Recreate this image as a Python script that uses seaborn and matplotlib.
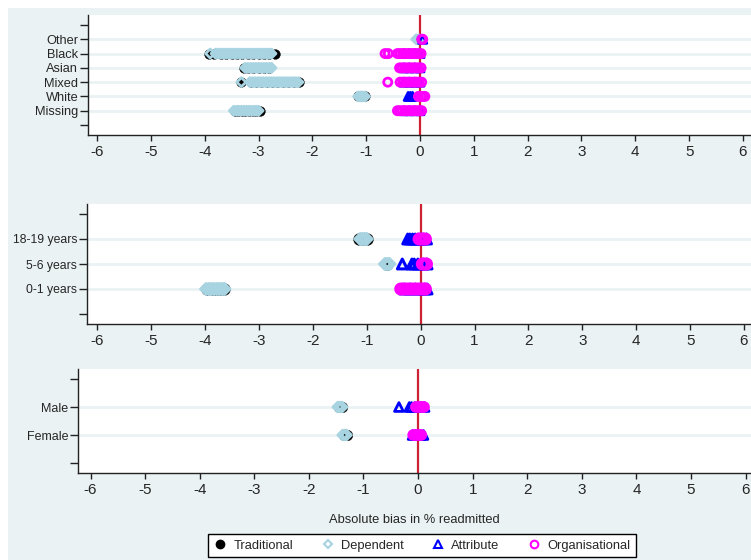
import pandas as pd
import matplotlib.pyplot as plt
import seaborn as sns

# ---- data (absolute bias in % readmitted) ----
methods = ["Traditional", "Dependent", "Attribute", "Organisational"]

# panel 1: ethnicity (bottom to top)
eth_cats = ["Missing", "White", "Mixed", "Asian", "Black", "Other"]
eth_trad = [
    [-3.44, -3.38, -3.31, -3.25, -3.18, -3.11, -3.04, -2.97],
    [-1.16, -1.10, -1.03],
    [-3.33, -3.15, -3.05, -2.95, -2.85, -2.75, -2.65, -2.55, -2.45, -2.35, -2.25],
    [-3.28, -3.19, -3.10, -3.00, -2.90, -2.80],
    [-3.92, -3.82, -3.70, -3.60, -3.50, -3.40, -3.30, -3.20, -3.10, -3.00, -2.90, -2.80, -2.70],
    [-0.04],
]
eth_dep = [
    [-3.46, -3.41, -3.37, -3.32, -3.27, -3.22, -3.18, -3.13, -3.08, -3.04, -3.00],
    [-1.15, -1.11, -1.07, -1.02],
    [-3.32, -3.16, -3.11, -3.06, -3.01, -2.96, -2.91, -2.86, -2.81, -2.76, -2.71,
     -2.66, -2.61, -2.56, -2.51, -2.46, -2.41, -2.36, -2.31, -2.26],
    [-3.25, -3.20, -3.15, -3.10, -3.05, -3.00, -2.95, -2.90, -2.85, -2.80, -2.76],
    [-3.90, -3.80, -3.75, -3.70, -3.65, -3.60, -3.55, -3.50, -3.45, -3.40, -3.35, -3.30,
     -3.25, -3.20, -3.15, -3.10, -3.05, -3.00, -2.95, -2.90, -2.85, -2.80, -2.76],
    [-0.07, -0.02],
]
eth_attr = [
    [-0.30, -0.20, -0.10, 0.00],
    [-0.22, -0.18, -0.14],
    [-0.30, -0.20, -0.10, 0.00],
    [-0.30, -0.20, -0.10, 0.00],
    [-0.30, -0.20, -0.10, 0.00],
    [0.05],
]
eth_org = [
    [-0.42, -0.38, -0.33, -0.28, -0.24, -0.19, -0.14, -0.10, -0.05, 0.00, 0.03],
    [-0.03, 0.02, 0.06, 0.09],
    [-0.60, -0.37, -0.32, -0.27, -0.22, -0.17, -0.12, -0.07, -0.02, 0.03],
    [-0.38, -0.33, -0.28, -0.23, -0.18, -0.13, -0.08, -0.03, 0.02],
    [-0.65, -0.59, -0.42, -0.37, -0.32, -0.27, -0.22, -0.17, -0.12, -0.07, -0.02, 0.02],
    [0.03, 0.05],
]

# panel 2: age (bottom to top)
age_cats = ["0-1 years", "5-6 years", "18-19 years"]
age_trad = [[-3.96, -3.88, -3.80, -3.72, -3.65], [-0.63], [-1.14, -1.07, -1.00]]
age_dep = [[-3.98, -3.93, -3.88, -3.83, -3.78, -3.73, -3.68, -3.64],
           [-0.66, -0.62, -0.58],
           [-1.12, -1.08, -1.04, -1.00]]
age_attr = [[-0.30, -0.20, -0.10, 0.00, 0.08, 0.12],
            [-0.34, -0.16, -0.12, -0.05, 0.05, 0.12],
            [-0.24, -0.20, -0.15, -0.10, -0.05, 0.00, 0.05, 0.11]]
age_org = [[-0.37, -0.33, -0.28, -0.23, -0.18, -0.13, -0.08, -0.03, 0.02, 0.06, 0.09],
           [0.03, 0.07, 0.11],
           [-0.03, 0.01, 0.05, 0.09]]

# panel 3: sex (bottom to top)
sex_cats = ["Female", "Male"]
sex_trad = [[-1.36, -1.30], [-1.45, -1.39]]
sex_dep = [[-1.38, -1.34, -1.31], [-1.47, -1.43, -1.39]]
sex_attr = [[-0.10, -0.05, 0.00, 0.05, 0.10],
            [-0.35, -0.16, -0.12, -0.06, 0.00, 0.06, 0.12]]
sex_org = [[-0.09, -0.05, -0.01, 0.03, 0.06], [-0.04, 0.00, 0.04, 0.08, 0.11]]

xticks = list(range(-6, 7))
xlabel = "Absolute bias in % readmitted"

# ---- style ----
styles = {
    "Traditional": dict(marker="o", color="black", facecolor="black", scale=1.45, lw=0.3),
    "Dependent": dict(marker="D", color="#a8d3e0", facecolor="none", scale=0.62, lw=None),
    "Attribute": dict(marker="^", color="#0000ff", facecolor="none", scale=1.0, lw=None),
    "Organisational": dict(marker="o", color="#ff00ff", facecolor="none", scale=1.0, lw=None),
}
bg = "#eaf2f3"

sns.set_theme(style="ticks")
plt.rcParams["font.family"] = ["Liberation Sans", "DejaVu Sans"]
plt.rcParams["axes.unicode_minus"] = False


def make_frame(cats, trad, dep, attr, org):
    rows = []
    for method, groups in zip(methods, [trad, dep, attr, org]):
        for pos, (cat, vals) in enumerate(zip(cats, groups), start=1):
            for v in vals:
                rows.append({"method": method, "category": cat, "pos": pos, "bias": v})
    return pd.DataFrame(rows)


fig = plt.figure(figsize=(7.51, 5.6), dpi=100)
fig.patches.append(plt.Rectangle((8 / 751, 0), 1, 1 - 8 / 560, transform=fig.transFigure,
                                 facecolor=bg, edgecolor="none", zorder=-10))

# cats, data..., [left px, top px, bottom px], xlim, marker size, line width, label size
panels = [
    (eth_cats, eth_trad, eth_dep, eth_attr, eth_org, [88, 15, 135], (-6.17, 6.15), 34, 2.0, 9.2),
    (age_cats, age_trad, age_dep, age_attr, age_org, [87, 204, 324], (-6.19, 6.13), 50, 2.2, 8.8),
    (sex_cats, sex_trad, sex_dep, sex_attr, sex_org, [78, 369, 473], (-6.23, 6.10), 40, 2.0, 9.0),
]

for i, (cats, trad, dep, attr, org, box, xlim, size, lw, fs) in enumerate(panels):
    left, top, bottom = box
    ax = fig.add_axes([left / 751, 1 - bottom / 560, 1 - left / 751, (bottom - top) / 560])
    ax.set_facecolor("white")
    df = make_frame(cats, trad, dep, attr, org)
    n = len(cats)

    for pos in range(1, n + 1):
        ax.axhline(pos, color=bg, lw=2, zorder=0)
    ax.axvline(0, color="#cc2233", lw=1.6, zorder=1)

    for z, m in enumerate(methods):
        st = styles[m]
        sns.scatterplot(data=df[df["method"] == m], x="bias", y="pos", ax=ax,
                        marker=st["marker"], color=st["color"], facecolor=st["facecolor"],
                        edgecolor=st["color"], linewidth=st["lw"] or lw,
                        s=size * st["scale"], legend=False, zorder=2 + z)

    unit = (bottom - top - 20) / (n + 1)
    ax.set_ylim(-10 / unit, n + 1 + 10 / unit)
    ax.set_yticks(range(0, n + 2))
    ax.set_yticklabels([""] + cats + [""], fontsize=fs)
    ax.set_xlim(*xlim)
    ax.set_xticks(xticks)
    ax.set_xticklabels([str(t) for t in xticks], fontsize=11)
    ax.set_xlabel("")
    ax.set_ylabel("")
    ax.tick_params(axis="y", length=5.5, width=1, color="#222222", pad=1.5)
    ax.tick_params(axis="x", length=4, width=1, color="#222222", pad=3.5)
    for side in ["top", "right"]:
        ax.spines[side].set_visible(False)
    for side in ["left", "bottom"]:
        ax.spines[side].set_color("#222222")
        ax.spines[side].set_linewidth(1)
    if i == 2:
        ax.set_xlabel(xlabel, fontsize=9.3, labelpad=12)

handles = []
for m in methods:
    st = styles[m]
    h = plt.Line2D([], [], linestyle="none", marker=st["marker"],
                   markersize=4.5 if m == "Dependent" else 5.5,
                   markerfacecolor=st["facecolor"], markeredgecolor=st["color"],
                   markeredgewidth=1.5, label=m)
    handles.append(h)
leg = fig.legend(handles=handles, loc="center", bbox_to_anchor=(422 / 751, 1 - 545.5 / 560),
                 ncol=4, frameon=True, fancybox=False, fontsize=9.3,
                 handletextpad=0.5, columnspacing=2.2, borderpad=0.45, handlelength=1.0)
leg.get_frame().set_edgecolor("black")
leg.get_frame().set_linewidth(1)
leg.get_frame().set_facecolor("white")
leg.get_frame().set_alpha(1)

fig.savefig("out.png", dpi=100)
